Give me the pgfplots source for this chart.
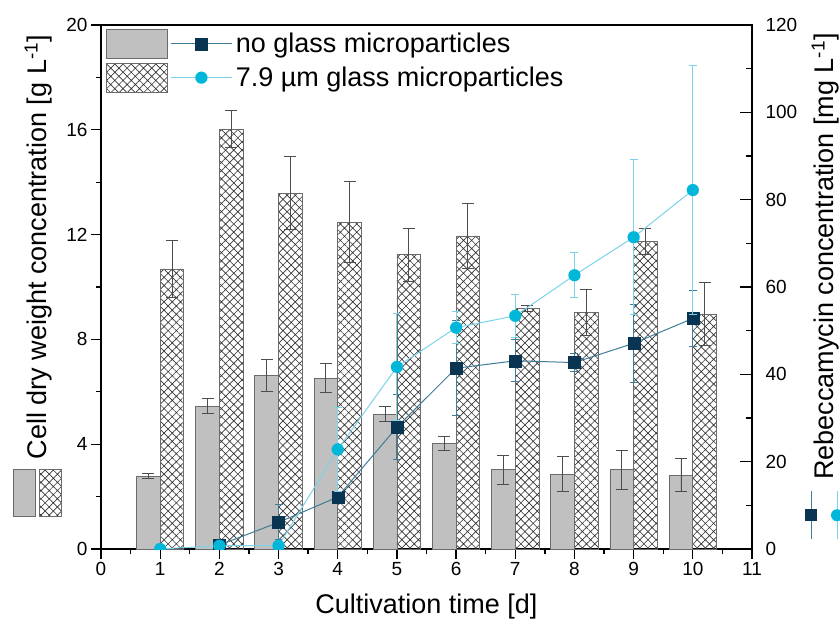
\documentclass[border=0pt]{standalone}
\usepackage{pgfplots}
\usepackage{pgfplotstable}
\pgfplotsset{compat=1.18}
\usepackage{fontspec}
\setmainfont{Liberation Sans}
\usetikzlibrary{patterns.meta}

\definecolor{barGray}{HTML}{C0C0C0}
\definecolor{barEdge}{HTML}{6B6B6B}
\definecolor{hatchCol}{HTML}{333333}
\definecolor{errGray}{HTML}{4D4D4D}
\definecolor{navy}{HTML}{0A3552}
\definecolor{navyLine}{HTML}{3F7C98}
\definecolor{cyanMark}{HTML}{00B7DA}
\definecolor{cyanLine}{HTML}{7CD2E8}

\tikzset{hatchfill/.style={pattern={Hatch[angle=45,distance=5.8pt,line width=0.65pt]}, pattern color=hatchCol}}

% keys shown in front of the axis titles
\newcommand\barkeys{\tikz[baseline=-9.7pt]{%
  \draw[barEdge, fill=barGray, line width=0.8pt] (0pt,2pt) rectangle (47pt,24pt);
  \draw[barEdge, hatchfill, line width=0.8pt] (0pt,-2pt) rectangle (47pt,-24pt);}}
\newcommand\linekeys{\tikz[baseline=-9.7pt]{%
  \draw[navyLine, line width=1pt] (0pt,13pt) -- (48pt,13pt);
  \fill[navy] (18pt,7pt) rectangle (30pt,19pt);
  \draw[cyanLine, line width=1pt] (0pt,-13pt) -- (48pt,-13pt);
  \fill[cyanMark] (24pt,-13pt) circle (6pt);}}

% cell dry weight [g/L]: day, mean, sd
\pgfplotstableread{
x y e
1 2.78 0.10
2 5.45 0.29
3 6.62 0.60
4 6.52 0.55
5 5.15 0.30
6 4.03 0.26
7 3.02 0.55
8 2.86 0.68
9 3.02 0.75
10 2.82 0.64
}\cdwNone
\pgfplotstableread{
x y e
1 10.69 1.10
2 16.03 0.70
3 13.58 1.40
4 12.47 1.55
5 11.23 1.00
6 11.95 1.25
7 9.19 0.12
8 9.03 0.87
9 11.75 0.50
10 8.96 1.20
}\cdwGlass
% rebeccamycin [mg/L]
\pgfplotstableread{
x y e
2 0.9 0
3 6.1 4.0
4 11.9 1.0
5 27.9 7.5
6 41.4 10.9
7 43.1 4.8
8 42.7 2.0
9 47.1 9.0
10 52.8 6.4
}\rebNone
\pgfplotstableread{
x y e
1 0 0
2 0.75 0
3 0.75 0.3
4 22.8 9.6
5 41.7 12.3
6 50.7 3.6
7 53.4 5.0
8 62.7 5.2
9 71.4 17.7
10 82.2 28.5
}\rebGlass

\begin{document}
\begin{tikzpicture}
\begin{axis}[
  name=main,
  scale only axis, width=651pt, height=524pt,
  xmin=0, xmax=11, ymin=0, ymax=20,
  xtick={0,1,...,11}, ytick={0,4,...,20},
  minor x tick num=1, minor y tick num=1,
  xtick pos=lower, ytick pos=left,
  tick align=outside,
  major tick length=10pt, minor tick length=5pt,
  axis line style={line width=1.3pt},
  tick style={black, line width=1.3pt},
  tick label style={font=\fontsize{19}{22}\selectfont},
  /pgf/number format/assume math mode=true,
  label style={font=\fontsize{27}{30}\selectfont},
  xlabel={Cultivation time [d]},
  xlabel style={at={(axis description cs:0.5,0)}, anchor=base, yshift=-64pt},
  ylabel={\barkeys\hspace{10pt}Cell dry weight concentration [g L\textsuperscript{-1}]},
  ylabel style={at={(axis description cs:-0.0983,0.521)}, anchor=center},
]
% bars sit left (no particles) and right (with particles) of each day
\addplot[ybar, bar width=0.4, bar shift=0pt, fill=barGray, draw=barEdge, line width=0.8pt,
  error bars/.cd, y dir=both, y explicit,
  error bar style={color=errGray, line width=0.9pt},
  error mark options={rotate=90, mark size=6pt, color=errGray, line width=0.9pt}]
  table[x expr=\thisrow{x}-0.2, y=y, y error=e] {\cdwNone};
\addplot[ybar, bar width=0.4, bar shift=0pt, hatchfill, draw=barEdge, line width=0.8pt,
  error bars/.cd, y dir=both, y explicit,
  error bar style={color=errGray, line width=0.9pt},
  error mark options={rotate=90, mark size=6pt, color=errGray, line width=0.9pt}]
  table[x expr=\thisrow{x}+0.2, y=y, y error=e] {\cdwGlass};
\end{axis}

\begin{axis}[
  scale only axis, width=651pt, height=524pt,
  xmin=0, xmax=11, ymin=0, ymax=120,
  hide x axis,
  axis y line*=right,
  ytick={0,20,...,120}, minor y tick num=1,
  tick align=inside,
  major tick length=12pt, minor tick length=6pt,
  axis line style={line width=1.3pt},
  tick style={black, line width=1.3pt},
  yticklabel style={font=\fontsize{19}{22}\selectfont, xshift=10pt},
  /pgf/number format/assume math mode=true,
  label style={font=\fontsize{27}{30}\selectfont},
  ylabel={\linekeys\hspace{11pt}Rebeccamycin concentration [mg L\textsuperscript{-1}]},
  ylabel style={at={(axis description cs:1.1106,0.501)}, anchor=center},
  clip marker paths=true,
  legend style={at={(rel axis cs:0,1)}, anchor=north west, xshift=5pt, yshift=-4pt,
    draw=none, fill=none, inner sep=0pt, outer sep=0pt, row sep=4pt,
    font=\fontsize{27}{30}\selectfont, nodes={inner sep=3pt}},
  legend cell align=left,
]
\addplot[color=navyLine, line width=1pt, mark=square*, mark size=6pt,
  mark options={fill=navy, draw=navy, line width=0.1pt},
  legend image code/.code={
    \draw[draw=barEdge, fill=barGray, line width=0.8pt] (0pt,-14.5pt) rectangle (61pt,14.5pt);
    \draw[mark repeat=2, mark phase=2] plot coordinates {(65pt,0pt) (95pt,0pt) (126pt,0pt)};},
  error bars/.cd, y dir=both, y explicit,
  error bar style={color=navyLine, line width=0.9pt},
  error mark options={rotate=90, mark size=4pt, color=navyLine, line width=0.9pt}]
  table[x=x, y=y, y error=e] {\rebNone};
\addlegendentry{no glass microparticles}
\addplot[color=cyanLine, line width=1pt, mark=*, mark size=6pt,
  mark options={fill=cyanMark, draw=cyanMark, line width=0.1pt},
  legend image code/.code={
    \draw[draw=barEdge, hatchfill, line width=0.8pt] (0pt,-14.5pt) rectangle (61pt,14.5pt);
    \draw[mark repeat=2, mark phase=2] plot coordinates {(65pt,0pt) (95pt,0pt) (126pt,0pt)};},
  error bars/.cd, y dir=both, y explicit,
  error bar style={color=cyanLine, line width=0.9pt},
  error mark options={rotate=90, mark size=4pt, color=cyanLine, line width=0.9pt}]
  table[x=x, y=y, y error=e] {\rebGlass};
\addlegendentry{7.9 µm glass microparticles}
\end{axis}
\pgfresetboundingbox
\useasboundingbox ([shift={(-101pt,-81pt)}]main.south west) rectangle ([shift={(88pt,25pt)}]main.north east);
\end{tikzpicture}
\end{document}
